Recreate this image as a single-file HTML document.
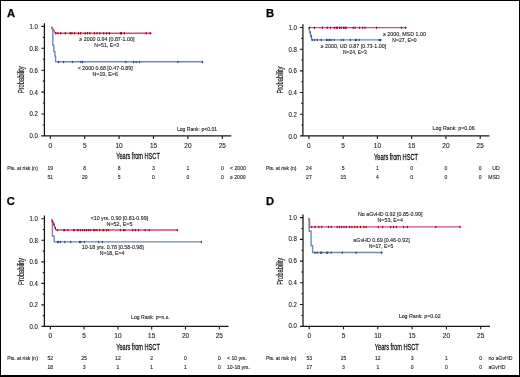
<!DOCTYPE html>
<html><head><meta charset="utf-8"><style>
html,body{margin:0;padding:0;background:#fff;}
body{width:520px;height:377px;overflow:hidden;}
svg{display:block;font-family:"Liberation Sans", sans-serif;filter:blur(0.3px);}
</style></head><body>
<svg width="520" height="377" viewBox="0 0 520 377">
<rect x="0" y="0" width="520" height="377" fill="#fff"/>
<text x="7.00" y="16.90" font-size="11.2" fill="#000" font-weight="bold" stroke="#000" stroke-width="0.25" >A</text>
<path d="M44.4,23.3 V135.9 M41.2,135.9 H231.3" stroke="#151515" stroke-width="1.25" fill="none"/>
<path d="M42.8,124.95 H44.4 M41.4,114.00 H44.4 M42.8,103.05 H44.4 M41.4,92.10 H44.4 M42.8,81.15 H44.4 M41.4,70.20 H44.4 M42.8,59.25 H44.4 M41.4,48.30 H44.4 M42.8,37.35 H44.4 M41.4,26.40 H44.4 " stroke="#151515" stroke-width="1.1" fill="none"/>
<text x="37.90" y="138.35" font-size="6.6" fill="#262626" text-anchor="end" textLength="8.41" lengthAdjust="spacingAndGlyphs" stroke="#262626" stroke-width="0.12" >0.0</text>
<text x="37.90" y="116.45" font-size="6.6" fill="#262626" text-anchor="end" textLength="8.41" lengthAdjust="spacingAndGlyphs" stroke="#262626" stroke-width="0.12" >0.2</text>
<text x="37.90" y="94.55" font-size="6.6" fill="#262626" text-anchor="end" textLength="8.41" lengthAdjust="spacingAndGlyphs" stroke="#262626" stroke-width="0.12" >0.4</text>
<text x="37.90" y="72.65" font-size="6.6" fill="#262626" text-anchor="end" textLength="8.41" lengthAdjust="spacingAndGlyphs" stroke="#262626" stroke-width="0.12" >0.6</text>
<text x="37.90" y="50.75" font-size="6.6" fill="#262626" text-anchor="end" textLength="8.41" lengthAdjust="spacingAndGlyphs" stroke="#262626" stroke-width="0.12" >0.8</text>
<text x="37.90" y="28.85" font-size="6.6" fill="#262626" text-anchor="end" textLength="8.41" lengthAdjust="spacingAndGlyphs" stroke="#262626" stroke-width="0.12" >1.0</text>
<text x="50.30" y="147.90" font-size="6.6" fill="#262626" text-anchor="middle" textLength="3.62" lengthAdjust="spacingAndGlyphs" stroke="#262626" stroke-width="0.12" >0</text>
<text x="84.70" y="147.90" font-size="6.6" fill="#262626" text-anchor="middle" textLength="3.62" lengthAdjust="spacingAndGlyphs" stroke="#262626" stroke-width="0.12" >5</text>
<text x="119.10" y="147.90" font-size="6.6" fill="#262626" text-anchor="middle" textLength="7.23" lengthAdjust="spacingAndGlyphs" stroke="#262626" stroke-width="0.12" >10</text>
<text x="153.50" y="147.90" font-size="6.6" fill="#262626" text-anchor="middle" textLength="7.23" lengthAdjust="spacingAndGlyphs" stroke="#262626" stroke-width="0.12" >15</text>
<text x="187.90" y="147.90" font-size="6.6" fill="#262626" text-anchor="middle" textLength="7.23" lengthAdjust="spacingAndGlyphs" stroke="#262626" stroke-width="0.12" >20</text>
<text x="222.30" y="147.90" font-size="6.6" fill="#262626" text-anchor="middle" textLength="7.23" lengthAdjust="spacingAndGlyphs" stroke="#262626" stroke-width="0.12" >25</text>
<path d="M50.30,135.9 V138.9 M84.70,135.9 V138.9 M119.10,135.9 V138.9 M153.50,135.9 V138.9 M187.90,135.9 V138.9 M222.30,135.9 V138.9 " stroke="#151515" stroke-width="1.1" fill="none"/>
<text x="116.20" y="159.40" font-size="9" fill="#111" textLength="43.60" lengthAdjust="spacingAndGlyphs" stroke="#111" stroke-width="0.28" >Years from HSCT</text>
<text x="0" y="0" font-size="8.6" fill="#1a1a1a" stroke="#1a1a1a" stroke-width="0.2" text-anchor="middle" textLength="27" lengthAdjust="spacingAndGlyphs" transform="translate(24.2,79.8) rotate(-90)">Probability</text>
<text x="7.20" y="169.70" font-size="4.9" fill="#262626" textLength="30.60" lengthAdjust="spacingAndGlyphs" stroke="#262626" stroke-width="0.12" >Pts. at risk (n)</text>
<text x="50.30" y="169.70" font-size="5.0" fill="#262626" text-anchor="middle" stroke="#262626" stroke-width="0.12" >19</text>
<text x="50.30" y="178.50" font-size="5.0" fill="#262626" text-anchor="middle" stroke="#262626" stroke-width="0.12" >51</text>
<text x="84.70" y="169.70" font-size="5.0" fill="#262626" text-anchor="middle" stroke="#262626" stroke-width="0.12" >8</text>
<text x="84.70" y="178.50" font-size="5.0" fill="#262626" text-anchor="middle" stroke="#262626" stroke-width="0.12" >20</text>
<text x="119.10" y="169.70" font-size="5.0" fill="#262626" text-anchor="middle" stroke="#262626" stroke-width="0.12" >8</text>
<text x="119.10" y="178.50" font-size="5.0" fill="#262626" text-anchor="middle" stroke="#262626" stroke-width="0.12" >5</text>
<text x="153.50" y="169.70" font-size="5.0" fill="#262626" text-anchor="middle" stroke="#262626" stroke-width="0.12" >3</text>
<text x="153.50" y="178.50" font-size="5.0" fill="#262626" text-anchor="middle" stroke="#262626" stroke-width="0.12" >0</text>
<text x="187.90" y="169.70" font-size="5.0" fill="#262626" text-anchor="middle" stroke="#262626" stroke-width="0.12" >1</text>
<text x="187.90" y="178.50" font-size="5.0" fill="#262626" text-anchor="middle" stroke="#262626" stroke-width="0.12" >0</text>
<text x="222.30" y="169.70" font-size="5.0" fill="#262626" text-anchor="middle" stroke="#262626" stroke-width="0.12" >0</text>
<text x="222.30" y="178.50" font-size="5.0" fill="#262626" text-anchor="middle" stroke="#262626" stroke-width="0.12" >0</text>
<text x="230.00" y="169.70" font-size="5.15" fill="#262626" stroke="#262626" stroke-width="0.12" >&lt; 2000</text>
<text x="230.00" y="178.50" font-size="5.15" fill="#262626" stroke="#262626" stroke-width="0.12" >≥ 2000</text>
<text x="197.00" y="130.50" font-size="5.0" fill="#262626" text-anchor="middle" textLength="40.00" lengthAdjust="spacingAndGlyphs" stroke="#262626" stroke-width="0.12" >Log Rank: p&lt;0.01</text>
<path d="M51.6,26.8 L52.8,30.9 V45.2 H53.8 V51.6 H54.9 V56.3 H55.6 V61.8 H203" stroke="#7588b0" stroke-width="1.4" fill="none"/>
<path d="M58.5,61.3 V62.5 M63.6,61.3 V62.5 M72.5,61.3 V62.5 M80.9,61.3 V62.5 M82.5,61.3 V62.5 M125.8,61.3 V62.5 M133.6,61.3 V62.5 M136.1,61.3 V62.5 M139.4,61.3 V62.5 M177.9,61.3 V62.5 M202.6,61.3 V62.5 " stroke="#2a4888" stroke-width="1.25" stroke-linecap="round" fill="none"/>
<path d="M51.6,26.8 L55.4,33.2 H151.6" stroke="#c85474" stroke-width="1.4" fill="none"/>
<path d="M55.75,32.7 V33.900000000000006 M57.8,32.7 V33.900000000000006 M60.7,32.7 V33.900000000000006 M65.3,32.7 V33.900000000000006 M70.2,32.7 V33.900000000000006 M71.9,32.7 V33.900000000000006 M74.5,32.7 V33.900000000000006 M78.5,32.7 V33.900000000000006 M80.6,32.7 V33.900000000000006 M85.2,32.7 V33.900000000000006 M87.5,32.7 V33.900000000000006 M89.8,32.7 V33.900000000000006 M94.4,32.7 V33.900000000000006 M97,32.7 V33.900000000000006 M99.9,32.7 V33.900000000000006 M103.7,32.7 V33.900000000000006 M106.8,32.7 V33.900000000000006 M109.4,32.7 V33.900000000000006 M120.4,32.7 V33.900000000000006 M121.6,32.7 V33.900000000000006 M124.4,32.7 V33.900000000000006 M146.2,32.7 V33.900000000000006 M150.2,32.7 V33.900000000000006 " stroke="#a8001e" stroke-width="1.25" stroke-linecap="round" fill="none"/>
<text x="106.90" y="41.20" font-size="5.2" fill="#262626" text-anchor="middle" textLength="55.20" lengthAdjust="spacingAndGlyphs" stroke="#262626" stroke-width="0.12" >≥ 2000 0.94 [0.87-1.00]</text>
<text x="106.70" y="47.30" font-size="5.2" fill="#262626" text-anchor="middle" textLength="24.90" lengthAdjust="spacingAndGlyphs" stroke="#262626" stroke-width="0.12" >N=51, E=3</text>
<text x="105.20" y="69.90" font-size="5.2" fill="#262626" text-anchor="middle" textLength="55.10" lengthAdjust="spacingAndGlyphs" stroke="#262626" stroke-width="0.12" >&lt; 2000 0.68 [0.47-0.89]</text>
<text x="105.20" y="76.30" font-size="5.2" fill="#262626" text-anchor="middle" textLength="25.50" lengthAdjust="spacingAndGlyphs" stroke="#262626" stroke-width="0.12" >N=19, E=6</text>
<text x="266.00" y="16.80" font-size="11.2" fill="#000" font-weight="bold" stroke="#000" stroke-width="0.25" >B</text>
<path d="M302.9,24.2 V135.9 M300,135.9 H489.5" stroke="#151515" stroke-width="1.25" fill="none"/>
<path d="M301.29999999999995,125.06 H302.9 M299.9,114.22 H302.9 M301.29999999999995,103.38 H302.9 M299.9,92.54 H302.9 M301.29999999999995,81.70 H302.9 M299.9,70.86 H302.9 M301.29999999999995,60.02 H302.9 M299.9,49.18 H302.9 M301.29999999999995,38.34 H302.9 M299.9,27.50 H302.9 " stroke="#151515" stroke-width="1.1" fill="none"/>
<text x="296.90" y="138.50" font-size="6.6" fill="#262626" text-anchor="end" textLength="8.41" lengthAdjust="spacingAndGlyphs" stroke="#262626" stroke-width="0.12" >0.0</text>
<text x="296.90" y="116.82" font-size="6.6" fill="#262626" text-anchor="end" textLength="8.41" lengthAdjust="spacingAndGlyphs" stroke="#262626" stroke-width="0.12" >0.2</text>
<text x="296.90" y="95.14" font-size="6.6" fill="#262626" text-anchor="end" textLength="8.41" lengthAdjust="spacingAndGlyphs" stroke="#262626" stroke-width="0.12" >0.4</text>
<text x="296.90" y="73.46" font-size="6.6" fill="#262626" text-anchor="end" textLength="8.41" lengthAdjust="spacingAndGlyphs" stroke="#262626" stroke-width="0.12" >0.6</text>
<text x="296.90" y="51.78" font-size="6.6" fill="#262626" text-anchor="end" textLength="8.41" lengthAdjust="spacingAndGlyphs" stroke="#262626" stroke-width="0.12" >0.8</text>
<text x="296.90" y="30.10" font-size="6.6" fill="#262626" text-anchor="end" textLength="8.41" lengthAdjust="spacingAndGlyphs" stroke="#262626" stroke-width="0.12" >1.0</text>
<text x="308.90" y="148.20" font-size="6.6" fill="#262626" text-anchor="middle" textLength="3.62" lengthAdjust="spacingAndGlyphs" stroke="#262626" stroke-width="0.12" >0</text>
<text x="343.16" y="148.20" font-size="6.6" fill="#262626" text-anchor="middle" textLength="3.62" lengthAdjust="spacingAndGlyphs" stroke="#262626" stroke-width="0.12" >5</text>
<text x="377.42" y="148.20" font-size="6.6" fill="#262626" text-anchor="middle" textLength="7.23" lengthAdjust="spacingAndGlyphs" stroke="#262626" stroke-width="0.12" >10</text>
<text x="411.68" y="148.20" font-size="6.6" fill="#262626" text-anchor="middle" textLength="7.23" lengthAdjust="spacingAndGlyphs" stroke="#262626" stroke-width="0.12" >15</text>
<text x="445.94" y="148.20" font-size="6.6" fill="#262626" text-anchor="middle" textLength="7.23" lengthAdjust="spacingAndGlyphs" stroke="#262626" stroke-width="0.12" >20</text>
<text x="480.20" y="148.20" font-size="6.6" fill="#262626" text-anchor="middle" textLength="7.23" lengthAdjust="spacingAndGlyphs" stroke="#262626" stroke-width="0.12" >25</text>
<path d="M308.90,135.9 V138.9 M343.16,135.9 V138.9 M377.42,135.9 V138.9 M411.68,135.9 V138.9 M445.94,135.9 V138.9 M480.20,135.9 V138.9 " stroke="#151515" stroke-width="1.1" fill="none"/>
<text x="374.10" y="159.80" font-size="9" fill="#111" textLength="43.80" lengthAdjust="spacingAndGlyphs" stroke="#111" stroke-width="0.28" >Years from HSCT</text>
<text x="0" y="0" font-size="8.6" fill="#1a1a1a" stroke="#1a1a1a" stroke-width="0.2" text-anchor="middle" textLength="27" lengthAdjust="spacingAndGlyphs" transform="translate(283.2,80) rotate(-90)">Probability</text>
<text x="265.90" y="169.70" font-size="4.9" fill="#262626" textLength="30.60" lengthAdjust="spacingAndGlyphs" stroke="#262626" stroke-width="0.12" >Pts. at risk (n)</text>
<text x="308.90" y="169.70" font-size="5.0" fill="#262626" text-anchor="middle" stroke="#262626" stroke-width="0.12" >24</text>
<text x="308.90" y="178.50" font-size="5.0" fill="#262626" text-anchor="middle" stroke="#262626" stroke-width="0.12" >27</text>
<text x="343.16" y="169.70" font-size="5.0" fill="#262626" text-anchor="middle" stroke="#262626" stroke-width="0.12" >5</text>
<text x="343.16" y="178.50" font-size="5.0" fill="#262626" text-anchor="middle" stroke="#262626" stroke-width="0.12" >15</text>
<text x="377.42" y="169.70" font-size="5.0" fill="#262626" text-anchor="middle" stroke="#262626" stroke-width="0.12" >1</text>
<text x="377.42" y="178.50" font-size="5.0" fill="#262626" text-anchor="middle" stroke="#262626" stroke-width="0.12" >4</text>
<text x="411.68" y="169.70" font-size="5.0" fill="#262626" text-anchor="middle" stroke="#262626" stroke-width="0.12" >0</text>
<text x="411.68" y="178.50" font-size="5.0" fill="#262626" text-anchor="middle" stroke="#262626" stroke-width="0.12" >0</text>
<text x="445.94" y="169.70" font-size="5.0" fill="#262626" text-anchor="middle" stroke="#262626" stroke-width="0.12" >0</text>
<text x="445.94" y="178.50" font-size="5.0" fill="#262626" text-anchor="middle" stroke="#262626" stroke-width="0.12" >0</text>
<text x="480.20" y="169.70" font-size="5.0" fill="#262626" text-anchor="middle" stroke="#262626" stroke-width="0.12" >0</text>
<text x="480.20" y="178.50" font-size="5.0" fill="#262626" text-anchor="middle" stroke="#262626" stroke-width="0.12" >0</text>
<text x="499.80" y="169.70" font-size="5.15" fill="#262626" text-anchor="end" stroke="#262626" stroke-width="0.12" >UD</text>
<text x="499.80" y="178.50" font-size="5.15" fill="#262626" text-anchor="end" stroke="#262626" stroke-width="0.12" >MSD</text>
<text x="453.60" y="129.80" font-size="5.0" fill="#262626" text-anchor="middle" textLength="42.00" lengthAdjust="spacingAndGlyphs" stroke="#262626" stroke-width="0.12" >Log Rank: p=0.06</text>
<path d="M308.4,27.8 L310.2,32.2 L310.6,34.5 L311.4,36.4 L311.6,39.9 H382.2" stroke="#7588b0" stroke-width="1.4" fill="none"/>
<path d="M312.3,39.4 V40.6 M314.6,39.4 V40.6 M317.3,39.4 V40.6 M321.2,39.4 V40.6 M326.5,39.4 V40.6 M328,39.4 V40.6 M329.6,39.4 V40.6 M331.2,39.4 V40.6 M334.2,39.4 V40.6 M341.2,39.4 V40.6 M343.5,39.4 V40.6 M350.4,39.4 V40.6 M355.4,39.4 V40.6 M356.5,39.4 V40.6 M359.2,39.4 V40.6 M379.2,39.4 V40.6 M380.4,39.4 V40.6 M310.3,31.799999999999997 V33.0 M311.2,35.7 V36.900000000000006 " stroke="#2a4888" stroke-width="1.25" stroke-linecap="round" fill="none"/>
<path d="M308.5,27.6 H406.5" stroke="#c85474" stroke-width="1.4" fill="none"/>
<path d="M309.6,27.1 V28.3 M314.4,27.1 V28.3 M322.3,27.1 V28.3 M327.3,27.1 V28.3 M330.4,27.1 V28.3 M334.2,27.1 V28.3 M336.2,27.1 V28.3 M337.3,27.1 V28.3 M339.6,27.1 V28.3 M341.2,27.1 V28.3 M343.5,27.1 V28.3 M345,27.1 V28.3 M346.2,27.1 V28.3 M353.1,27.1 V28.3 M355,27.1 V28.3 M359.6,27.1 V28.3 M362.7,27.1 V28.3 M365,27.1 V28.3 M376.5,27.1 V28.3 M401.5,27.1 V28.3 M405.6,27.1 V28.3 " stroke="#a8001e" stroke-width="1.25" stroke-linecap="round" fill="none"/>
<text x="404.40" y="35.90" font-size="5.2" fill="#262626" text-anchor="middle" textLength="43.00" lengthAdjust="spacingAndGlyphs" stroke="#262626" stroke-width="0.12" >≥ 2000, MSD 1.00</text>
<text x="404.50" y="41.70" font-size="5.2" fill="#262626" text-anchor="middle" textLength="24.30" lengthAdjust="spacingAndGlyphs" stroke="#262626" stroke-width="0.12" >N=27, E=0</text>
<text x="353.40" y="47.70" font-size="5.2" fill="#262626" text-anchor="middle" textLength="65.50" lengthAdjust="spacingAndGlyphs" stroke="#262626" stroke-width="0.12" >≥ 2000, UD 0.87 [0.73-1.00]</text>
<text x="354.80" y="54.10" font-size="5.2" fill="#262626" text-anchor="middle" textLength="23.80" lengthAdjust="spacingAndGlyphs" stroke="#262626" stroke-width="0.12" >N=24, E=3</text>
<text x="6.80" y="204.80" font-size="11.2" fill="#000" font-weight="bold" stroke="#000" stroke-width="0.25" >C</text>
<path d="M44.4,215.5 V326.4 M41.5,326.4 H228.5" stroke="#151515" stroke-width="1.25" fill="none"/>
<path d="M42.8,315.64 H44.4 M41.4,304.88 H44.4 M42.8,294.12 H44.4 M41.4,283.36 H44.4 M42.8,272.60 H44.4 M41.4,261.84 H44.4 M42.8,251.08 H44.4 M41.4,240.32 H44.4 M42.8,229.56 H44.4 M41.4,218.80 H44.4 " stroke="#151515" stroke-width="1.1" fill="none"/>
<text x="37.90" y="329.00" font-size="6.6" fill="#262626" text-anchor="end" textLength="8.41" lengthAdjust="spacingAndGlyphs" stroke="#262626" stroke-width="0.12" >0.0</text>
<text x="37.90" y="307.48" font-size="6.6" fill="#262626" text-anchor="end" textLength="8.41" lengthAdjust="spacingAndGlyphs" stroke="#262626" stroke-width="0.12" >0.2</text>
<text x="37.90" y="285.96" font-size="6.6" fill="#262626" text-anchor="end" textLength="8.41" lengthAdjust="spacingAndGlyphs" stroke="#262626" stroke-width="0.12" >0.4</text>
<text x="37.90" y="264.44" font-size="6.6" fill="#262626" text-anchor="end" textLength="8.41" lengthAdjust="spacingAndGlyphs" stroke="#262626" stroke-width="0.12" >0.6</text>
<text x="37.90" y="242.92" font-size="6.6" fill="#262626" text-anchor="end" textLength="8.41" lengthAdjust="spacingAndGlyphs" stroke="#262626" stroke-width="0.12" >0.8</text>
<text x="37.90" y="221.40" font-size="6.6" fill="#262626" text-anchor="end" textLength="8.41" lengthAdjust="spacingAndGlyphs" stroke="#262626" stroke-width="0.12" >1.0</text>
<text x="50.30" y="337.90" font-size="6.6" fill="#262626" text-anchor="middle" textLength="3.62" lengthAdjust="spacingAndGlyphs" stroke="#262626" stroke-width="0.12" >0</text>
<text x="84.10" y="337.90" font-size="6.6" fill="#262626" text-anchor="middle" textLength="3.62" lengthAdjust="spacingAndGlyphs" stroke="#262626" stroke-width="0.12" >5</text>
<text x="117.90" y="337.90" font-size="6.6" fill="#262626" text-anchor="middle" textLength="7.23" lengthAdjust="spacingAndGlyphs" stroke="#262626" stroke-width="0.12" >10</text>
<text x="151.70" y="337.90" font-size="6.6" fill="#262626" text-anchor="middle" textLength="7.23" lengthAdjust="spacingAndGlyphs" stroke="#262626" stroke-width="0.12" >15</text>
<text x="185.50" y="337.90" font-size="6.6" fill="#262626" text-anchor="middle" textLength="7.23" lengthAdjust="spacingAndGlyphs" stroke="#262626" stroke-width="0.12" >20</text>
<text x="219.30" y="337.90" font-size="6.6" fill="#262626" text-anchor="middle" textLength="7.23" lengthAdjust="spacingAndGlyphs" stroke="#262626" stroke-width="0.12" >25</text>
<path d="M50.30,326.4 V329.4 M84.10,326.4 V329.4 M117.90,326.4 V329.4 M151.70,326.4 V329.4 M185.50,326.4 V329.4 M219.30,326.4 V329.4 " stroke="#151515" stroke-width="1.1" fill="none"/>
<text x="116.20" y="349.90" font-size="9" fill="#111" textLength="43.60" lengthAdjust="spacingAndGlyphs" stroke="#111" stroke-width="0.28" >Years from HSCT</text>
<text x="0" y="0" font-size="8.6" fill="#1a1a1a" stroke="#1a1a1a" stroke-width="0.2" text-anchor="middle" textLength="27" lengthAdjust="spacingAndGlyphs" transform="translate(24.2,271.6) rotate(-90)">Probability</text>
<text x="7.20" y="359.70" font-size="4.9" fill="#262626" textLength="30.60" lengthAdjust="spacingAndGlyphs" stroke="#262626" stroke-width="0.12" >Pts. at risk (n)</text>
<text x="50.30" y="359.70" font-size="5.0" fill="#262626" text-anchor="middle" stroke="#262626" stroke-width="0.12" >52</text>
<text x="50.30" y="369.20" font-size="5.0" fill="#262626" text-anchor="middle" stroke="#262626" stroke-width="0.12" >18</text>
<text x="84.10" y="359.70" font-size="5.0" fill="#262626" text-anchor="middle" stroke="#262626" stroke-width="0.12" >25</text>
<text x="84.10" y="369.20" font-size="5.0" fill="#262626" text-anchor="middle" stroke="#262626" stroke-width="0.12" >3</text>
<text x="117.90" y="359.70" font-size="5.0" fill="#262626" text-anchor="middle" stroke="#262626" stroke-width="0.12" >12</text>
<text x="117.90" y="369.20" font-size="5.0" fill="#262626" text-anchor="middle" stroke="#262626" stroke-width="0.12" >1</text>
<text x="151.70" y="359.70" font-size="5.0" fill="#262626" text-anchor="middle" stroke="#262626" stroke-width="0.12" >2</text>
<text x="151.70" y="369.20" font-size="5.0" fill="#262626" text-anchor="middle" stroke="#262626" stroke-width="0.12" >1</text>
<text x="185.50" y="359.70" font-size="5.0" fill="#262626" text-anchor="middle" stroke="#262626" stroke-width="0.12" >0</text>
<text x="185.50" y="369.20" font-size="5.0" fill="#262626" text-anchor="middle" stroke="#262626" stroke-width="0.12" >1</text>
<text x="219.30" y="359.70" font-size="5.0" fill="#262626" text-anchor="middle" stroke="#262626" stroke-width="0.12" >0</text>
<text x="219.30" y="369.20" font-size="5.0" fill="#262626" text-anchor="middle" stroke="#262626" stroke-width="0.12" >0</text>
<text x="227.00" y="359.70" font-size="5.15" fill="#262626" stroke="#262626" stroke-width="0.12" >&lt; 10 yrs.</text>
<text x="227.00" y="369.20" font-size="5.15" fill="#262626" stroke="#262626" stroke-width="0.12" >10-18 yrs.</text>
<text x="150.40" y="318.80" font-size="5.0" fill="#262626" text-anchor="middle" textLength="38.70" lengthAdjust="spacingAndGlyphs" stroke="#262626" stroke-width="0.12" >Log Rank: p=n.s.</text>
<path d="M51.6,219.2 L52.4,222 V236 H54.2 V241.9 H201.9" stroke="#7588b0" stroke-width="1.4" fill="none"/>
<path d="M57.5,241.4 V242.6 M58.3,241.4 V242.6 M60.3,241.4 V242.6 M64.7,241.4 V242.6 M70.7,241.4 V242.6 M79.6,241.4 V242.6 M80.8,241.4 V242.6 M84.2,241.4 V242.6 M98.5,241.4 V242.6 M102.3,241.4 V242.6 M201.4,241.4 V242.6 " stroke="#2a4888" stroke-width="1.25" stroke-linecap="round" fill="none"/>
<path d="M51.6,219.2 L56,230 H178.1" stroke="#c85474" stroke-width="1.4" fill="none"/>
<path d="M57.5,229.5 V230.7 M63.9,229.5 V230.7 M64.7,229.5 V230.7 M67.9,229.5 V230.7 M73.5,229.5 V230.7 M74.3,229.5 V230.7 M77.4,229.5 V230.7 M78.1,229.5 V230.7 M80.4,229.5 V230.7 M82.7,229.5 V230.7 M84.6,229.5 V230.7 M86.5,229.5 V230.7 M88.5,229.5 V230.7 M90.4,229.5 V230.7 M93.5,229.5 V230.7 M95,229.5 V230.7 M96.9,229.5 V230.7 M99.6,229.5 V230.7 M103.1,229.5 V230.7 M103.8,229.5 V230.7 M106.5,229.5 V230.7 M108.5,229.5 V230.7 M120.4,229.5 V230.7 M123.5,229.5 V230.7 M125,229.5 V230.7 M132.7,229.5 V230.7 M135.4,229.5 V230.7 M138.5,229.5 V230.7 M145.2,229.5 V230.7 M149.3,229.5 V230.7 M177.3,229.5 V230.7 M52.8,221.1 V222.29999999999998 M54,223.7 V224.89999999999998 M55.4,227.3 V228.5 " stroke="#a8001e" stroke-width="1.25" stroke-linecap="round" fill="none"/>
<text x="119.40" y="219.60" font-size="5.2" fill="#262626" text-anchor="middle" textLength="57.50" lengthAdjust="spacingAndGlyphs" stroke="#262626" stroke-width="0.12" >&lt;10 yrs. 0.90 [0.81-0.99]</text>
<text x="119.50" y="225.90" font-size="5.2" fill="#262626" text-anchor="middle" textLength="26.00" lengthAdjust="spacingAndGlyphs" stroke="#262626" stroke-width="0.12" >N=52, E=5</text>
<text x="112.70" y="248.80" font-size="5.2" fill="#262626" text-anchor="middle" textLength="62.00" lengthAdjust="spacingAndGlyphs" stroke="#262626" stroke-width="0.12" >10-18 yrs. 0.78 [0.58-0.98]</text>
<text x="112.10" y="255.30" font-size="5.2" fill="#262626" text-anchor="middle" textLength="24.80" lengthAdjust="spacingAndGlyphs" stroke="#262626" stroke-width="0.12" >N=18, E=4</text>
<text x="266.00" y="204.80" font-size="11.2" fill="#000" font-weight="bold" stroke="#000" stroke-width="0.25" >D</text>
<path d="M303,214.5 V326.3 M300,326.3 H490" stroke="#151515" stroke-width="1.25" fill="none"/>
<path d="M301.4,315.43 H303 M300,304.56 H303 M301.4,293.69 H303 M300,282.82 H303 M301.4,271.95 H303 M300,261.08 H303 M301.4,250.21 H303 M300,239.34 H303 M301.4,228.47 H303 M300,217.60 H303 " stroke="#151515" stroke-width="1.1" fill="none"/>
<text x="296.90" y="328.40" font-size="6.6" fill="#262626" text-anchor="end" textLength="8.41" lengthAdjust="spacingAndGlyphs" stroke="#262626" stroke-width="0.12" >0.0</text>
<text x="296.90" y="306.66" font-size="6.6" fill="#262626" text-anchor="end" textLength="8.41" lengthAdjust="spacingAndGlyphs" stroke="#262626" stroke-width="0.12" >0.2</text>
<text x="296.90" y="284.92" font-size="6.6" fill="#262626" text-anchor="end" textLength="8.41" lengthAdjust="spacingAndGlyphs" stroke="#262626" stroke-width="0.12" >0.4</text>
<text x="296.90" y="263.18" font-size="6.6" fill="#262626" text-anchor="end" textLength="8.41" lengthAdjust="spacingAndGlyphs" stroke="#262626" stroke-width="0.12" >0.6</text>
<text x="296.90" y="241.44" font-size="6.6" fill="#262626" text-anchor="end" textLength="8.41" lengthAdjust="spacingAndGlyphs" stroke="#262626" stroke-width="0.12" >0.8</text>
<text x="296.90" y="219.70" font-size="6.6" fill="#262626" text-anchor="end" textLength="8.41" lengthAdjust="spacingAndGlyphs" stroke="#262626" stroke-width="0.12" >1.0</text>
<text x="309.20" y="338.00" font-size="6.6" fill="#262626" text-anchor="middle" textLength="3.62" lengthAdjust="spacingAndGlyphs" stroke="#262626" stroke-width="0.12" >0</text>
<text x="343.50" y="338.00" font-size="6.6" fill="#262626" text-anchor="middle" textLength="3.62" lengthAdjust="spacingAndGlyphs" stroke="#262626" stroke-width="0.12" >5</text>
<text x="377.80" y="338.00" font-size="6.6" fill="#262626" text-anchor="middle" textLength="7.23" lengthAdjust="spacingAndGlyphs" stroke="#262626" stroke-width="0.12" >10</text>
<text x="412.10" y="338.00" font-size="6.6" fill="#262626" text-anchor="middle" textLength="7.23" lengthAdjust="spacingAndGlyphs" stroke="#262626" stroke-width="0.12" >15</text>
<text x="446.40" y="338.00" font-size="6.6" fill="#262626" text-anchor="middle" textLength="7.23" lengthAdjust="spacingAndGlyphs" stroke="#262626" stroke-width="0.12" >20</text>
<text x="480.70" y="338.00" font-size="6.6" fill="#262626" text-anchor="middle" textLength="7.23" lengthAdjust="spacingAndGlyphs" stroke="#262626" stroke-width="0.12" >25</text>
<path d="M309.20,326.3 V329.3 M343.50,326.3 V329.3 M377.80,326.3 V329.3 M412.10,326.3 V329.3 M446.40,326.3 V329.3 M480.70,326.3 V329.3 " stroke="#151515" stroke-width="1.1" fill="none"/>
<text x="374.80" y="349.90" font-size="9" fill="#111" textLength="44.00" lengthAdjust="spacingAndGlyphs" stroke="#111" stroke-width="0.28" >Years from HSCT</text>
<text x="0" y="0" font-size="8.6" fill="#1a1a1a" stroke="#1a1a1a" stroke-width="0.2" text-anchor="middle" textLength="27" lengthAdjust="spacingAndGlyphs" transform="translate(282.6,271.3) rotate(-90)">Probability</text>
<text x="265.90" y="360.00" font-size="4.9" fill="#262626" textLength="30.60" lengthAdjust="spacingAndGlyphs" stroke="#262626" stroke-width="0.12" >Pts. at risk (n)</text>
<text x="309.20" y="360.00" font-size="5.0" fill="#262626" text-anchor="middle" stroke="#262626" stroke-width="0.12" >53</text>
<text x="309.20" y="369.20" font-size="5.0" fill="#262626" text-anchor="middle" stroke="#262626" stroke-width="0.12" >17</text>
<text x="343.50" y="360.00" font-size="5.0" fill="#262626" text-anchor="middle" stroke="#262626" stroke-width="0.12" >25</text>
<text x="343.50" y="369.20" font-size="5.0" fill="#262626" text-anchor="middle" stroke="#262626" stroke-width="0.12" >3</text>
<text x="377.80" y="360.00" font-size="5.0" fill="#262626" text-anchor="middle" stroke="#262626" stroke-width="0.12" >12</text>
<text x="377.80" y="369.20" font-size="5.0" fill="#262626" text-anchor="middle" stroke="#262626" stroke-width="0.12" >1</text>
<text x="412.10" y="360.00" font-size="5.0" fill="#262626" text-anchor="middle" stroke="#262626" stroke-width="0.12" >3</text>
<text x="412.10" y="369.20" font-size="5.0" fill="#262626" text-anchor="middle" stroke="#262626" stroke-width="0.12" >0</text>
<text x="446.40" y="360.00" font-size="5.0" fill="#262626" text-anchor="middle" stroke="#262626" stroke-width="0.12" >1</text>
<text x="446.40" y="369.20" font-size="5.0" fill="#262626" text-anchor="middle" stroke="#262626" stroke-width="0.12" >0</text>
<text x="480.70" y="360.00" font-size="5.0" fill="#262626" text-anchor="middle" stroke="#262626" stroke-width="0.12" >0</text>
<text x="480.70" y="369.20" font-size="5.0" fill="#262626" text-anchor="middle" stroke="#262626" stroke-width="0.12" >0</text>
<text x="488.50" y="360.00" font-size="5.15" fill="#262626" stroke="#262626" stroke-width="0.12" >no aGvHD</text>
<text x="488.50" y="369.20" font-size="5.15" fill="#262626" stroke="#262626" stroke-width="0.12" >aGvHD</text>
<text x="419.70" y="318.10" font-size="5.0" fill="#262626" text-anchor="middle" textLength="42.00" lengthAdjust="spacingAndGlyphs" stroke="#262626" stroke-width="0.12" >Log Rank: p=0.02</text>
<path d="M308.4,218 L309.2,219.5 V231.3 H311.1 V245.7 H312.6 V252.5 H383" stroke="#7588b0" stroke-width="1.4" fill="none"/>
<path d="M315,252.0 V253.2 M317.2,252.0 V253.2 M320.6,252.0 V253.2 M321.7,252.0 V253.2 M326.7,252.0 V253.2 M327.8,252.0 V253.2 M331.2,252.0 V253.2 M342.3,252.0 V253.2 M356.2,252.0 V253.2 M381.5,252.0 V253.2 " stroke="#2a4888" stroke-width="1.25" stroke-linecap="round" fill="none"/>
<path d="M308.4,218 L309.5,219.8 V226.9 H310.5 H460.7" stroke="#c85474" stroke-width="1.4" fill="none"/>
<path d="M311.7,226.4 V227.6 M315,226.4 V227.6 M318.9,226.4 V227.6 M321.7,226.4 V227.6 M328.4,226.4 V227.6 M331.2,226.4 V227.6 M337.3,226.4 V227.6 M339.5,226.4 V227.6 M341.7,226.4 V227.6 M344,226.4 V227.6 M346.2,226.4 V227.6 M349.5,226.4 V227.6 M351.9,226.4 V227.6 M354.8,226.4 V227.6 M357.2,226.4 V227.6 M360.5,226.4 V227.6 M363.9,226.4 V227.6 M366.2,226.4 V227.6 M378.2,226.4 V227.6 M382.6,226.4 V227.6 M390.7,226.4 V227.6 M393.6,226.4 V227.6 M396.5,226.4 V227.6 M403.6,226.4 V227.6 M407.3,226.4 V227.6 M435.8,226.4 V227.6 M460,226.4 V227.6 " stroke="#a8001e" stroke-width="1.25" stroke-linecap="round" fill="none"/>
<text x="390.20" y="215.50" font-size="5.2" fill="#262626" text-anchor="middle" textLength="64.40" lengthAdjust="spacingAndGlyphs" stroke="#262626" stroke-width="0.12" >No aGvHD 0.92 [0.85-0.99]</text>
<text x="390.20" y="222.10" font-size="5.2" fill="#262626" text-anchor="middle" textLength="25.40" lengthAdjust="spacingAndGlyphs" stroke="#262626" stroke-width="0.12" >N=53, E=4</text>
<text x="381.50" y="241.50" font-size="5.2" fill="#262626" text-anchor="middle" textLength="56.50" lengthAdjust="spacingAndGlyphs" stroke="#262626" stroke-width="0.12" >aGvHD 0.69 [0.46-0.92]</text>
<text x="381.10" y="247.70" font-size="5.2" fill="#262626" text-anchor="middle" textLength="24.60" lengthAdjust="spacingAndGlyphs" stroke="#262626" stroke-width="0.12" >N=17, E=5</text>
<path d="M0.5,0 V377 M519.5,0 V377 M0,0.5 H520" stroke="#000" stroke-width="1" fill="none"/>
<rect x="0" y="375" width="520" height="2" fill="#000"/>
</svg>
</body></html>
